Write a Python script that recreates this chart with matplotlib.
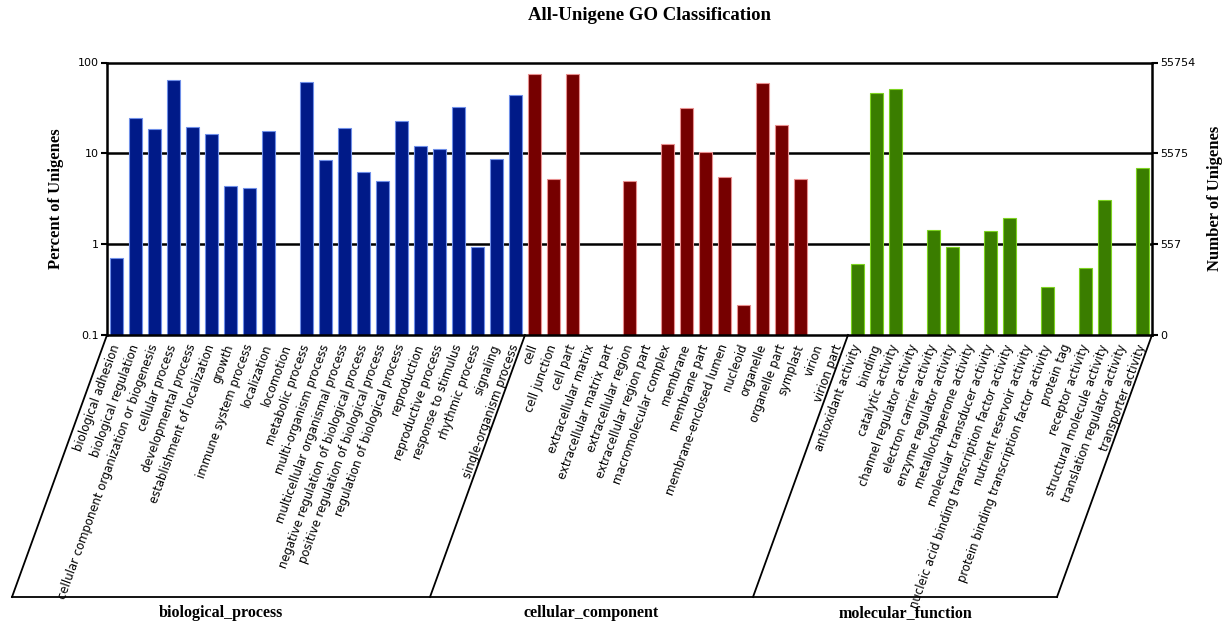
import matplotlib
matplotlib.use("Agg")
import matplotlib.pyplot as plt
import matplotlib.transforms as mtransforms
import numpy as np

# GO terms per ontology
bp_terms = [
    "biological adhesion", "biological regulation",
    "cellular component organization or biogenesis", "cellular process",
    "developmental process", "establishment of localization", "growth",
    "immune system process", "localization", "locomotion", "metabolic process",
    "multi-organism process", "multicellular organismal process",
    "negative regulation of biological process",
    "positive regulation of biological process",
    "regulation of biological process", "reproduction", "reproductive process",
    "response to stimulus", "rhythmic process", "signaling",
    "single-organism process",
]
cc_terms = [
    "cell", "cell junction", "cell part", "extracellular matrix",
    "extracellular matrix part", "extracellular region",
    "extracellular region part", "macromolecular complex", "membrane",
    "membrane part", "membrane-enclosed lumen", "nucleoid", "organelle",
    "organelle part", "symplast", "virion", "virion part",
]
mf_terms = [
    "antioxidant activity", "binding", "catalytic activity",
    "channel regulator activity", "electron carrier activity",
    "enzyme regulator activity", "metallochaperone activity",
    "molecular transducer activity",
    "nucleic acid binding transcription factor activity",
    "nutrient reservoir activity",
    "protein binding transcription factor activity", "protein tag",
    "receptor activity", "structural molecule activity",
    "translation regulator activity", "transporter activity",
]

# Percent of unigenes annotated to each term
bp_pct = [0.71, 24.7, 18.7, 63.9, 19.5, 16.2, 4.42, 4.2, 17.6, 0.0, 60.8,
          8.38, 19.2, 6.23, 4.92, 22.6, 11.9, 11.1, 32.3, 0.92, 8.75, 44.2]
cc_pct = [74.4, 5.18, 74.4, 0.0, 0.0, 5.01, 0.0, 12.6, 31.5, 10.3, 5.55,
          0.215, 59.3, 20.5, 5.18, 0.0, 0.0]
mf_pct = [0.61, 46.5, 50.5, 0.0, 1.44, 0.93, 0.0, 1.38, 1.95, 0.0, 0.34,
          0.0, 0.54, 3.07, 0.0, 6.9]

group_names = ["biological_process", "cellular_component", "molecular_function"]
group_colors = ["#001a88", "#760000", "#3a7d00"]
group_edges = ["#6f8fe8", "#e89090", "#7ed321"]

total_unigenes = 55754
pct_ticks = [0.1, 1, 10, 100]

terms = bp_terms + cc_terms + mf_terms
groups = [bp_pct, cc_pct, mf_pct]

fig = plt.figure(figsize=(12.3, 6.24), dpi=100)
ax = fig.add_axes([107 / 1230, 1 - 335 / 624, (1152 - 107) / 1230, (335 - 62.5) / 624])

serif = "Liberation Serif"

start = 0
bounds = [-0.5]
for vals, col, edge in zip(groups, group_colors, group_edges):
    xs = np.arange(start, start + len(vals))
    v = np.array(vals)
    keep = v > 0
    ax.bar(xs[keep], v[keep], width=0.66, bottom=1e-6,
           color=col, edgecolor=edge, linewidth=0.8, zorder=3)
    start += len(vals)
    bounds.append(start - 0.5)

ax.set_yscale("log")
ax.set_ylim(pct_ticks[0], pct_ticks[-1])
ax.set_xlim(-0.5, len(terms) - 0.5)

for level in pct_ticks[1:-1]:
    ax.axhline(level, color="black", lw=1.8, zorder=1)

for side in ["left", "right", "top", "bottom"]:
    ax.spines[side].set_linewidth(1.8)
    ax.spines[side].set_zorder(4)

ax.set_yticks(pct_ticks)
ax.set_yticklabels([f"{t:g}" for t in pct_ticks])
ax.yaxis.set_minor_locator(matplotlib.ticker.NullLocator())
ax.tick_params(axis="y", which="major", length=4, width=1.5, labelsize=8, pad=2)

ax.set_xticks(np.arange(len(terms)))
ax.set_xticklabels(terms, rotation=70, ha="right", va="center",
                   rotation_mode="anchor", fontsize=8.4)
ax.tick_params(axis="x", length=0, pad=7)

# Secondary axis with unigene counts
ax2 = ax.twinx()
ax2.set_yscale("log")
ax2.set_ylim(ax.get_ylim())
ax2.set_yticks(pct_ticks)
count_labels = ["0"] + [str(int(total_unigenes * t / 100)) for t in pct_ticks[1:]]
ax2.set_yticklabels(count_labels)
ax2.yaxis.set_minor_locator(matplotlib.ticker.NullLocator())
ax2.tick_params(axis="y", which="major", length=4, width=1.5, labelsize=8, pad=2)
for side in ["left", "right", "top", "bottom"]:
    ax2.spines[side].set_visible(False)

ax.set_ylabel("Percent of Unigenes", fontfamily=serif, fontweight="bold",
              fontsize=12, labelpad=10)
ax2.set_ylabel("Number of Unigenes", fontfamily=serif, fontweight="bold",
               fontsize=12, labelpad=8)

fig.suptitle("All-Unigene GO Classification", x=650 / 1230, y=1 - 15 / 624,
             va="center", fontfamily=serif, fontweight="bold", fontsize=13.5)

# Slanted frame grouping the term labels under each ontology
trans = mtransforms.blended_transform_factory(ax.transData, ax.transAxes)
slant = 5.0
y_base = -(597 - 335) / (335 - 62.5)
for b in bounds:
    ax.plot([b, b - slant], [0, y_base], color="black", lw=1.3,
            transform=trans, clip_on=False, zorder=5)
ax.plot([bounds[0] - slant, bounds[-1] - slant], [y_base, y_base],
        color="black", lw=1.3, transform=trans, clip_on=False, zorder=5)

y_name = -(613 - 335) / (335 - 62.5)
for i, name in enumerate(group_names):
    cx = (bounds[i] + bounds[i + 1]) / 2 - slant
    ax.text(cx, y_name, name, transform=trans, ha="center", va="center",
            fontfamily=serif, fontweight="bold", fontsize=11.5)

fig.savefig("out.png", dpi=100)
